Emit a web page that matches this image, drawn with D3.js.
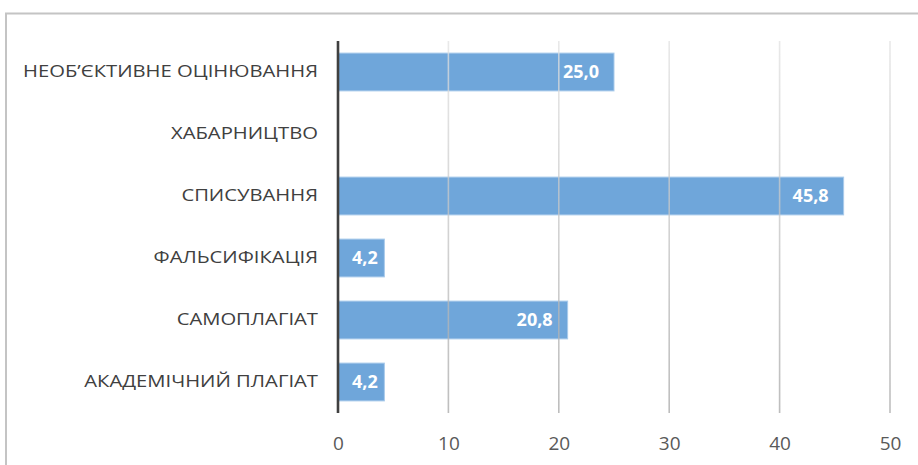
<!DOCTYPE html>
<html>
<head>
<meta charset="utf-8">
<script src="https://cdn.jsdelivr.net/npm/d3@7"></script>
<style>
  html, body { margin: 0; padding: 0; background: #fff; }
  svg { display: block; }
</style>
</head>
<body>
<div id="chart"></div>
<script>
// categories top -> bottom
const categories = [
  'НЕОБ’ЄКТИВНЕ ОЦІНЮВАННЯ',
  'ХАБАРНИЦТВО',
  'СПИСУВАННЯ',
  'ФАЛЬСИФІКАЦІЯ',
  'САМОПЛАГІАТ',
  'АКАДЕМІЧНИЙ ПЛАГІАТ',
];
const values = [25.0, null, 45.8, 4.2, 20.8, 4.2];
const xTicks = [0, 10, 20, 30, 40, 50];

const width = 918, height = 465;
const margin = { top: 41, left: 338, right: 28, bottom: 52 };
const innerW = width - margin.left - margin.right;
const innerH = height - margin.top - margin.bottom;

const fontFam = '"Open Sans", sans-serif';

const svg = d3.select('#chart').append('svg')
  .attr('width', width).attr('height', height);

// outer frame (extends past right/bottom edge)
svg.append('rect')
  .attr('x', 6).attr('y', 13.5)
  .attr('width', width + 10).attr('height', height + 10)
  .attr('fill', 'none').attr('stroke', '#c4c4c4').attr('stroke-width', 2);

const defs = svg.append('defs');
const grad = defs.append('linearGradient')
  .attr('id', 'gridGrad').attr('gradientUnits', 'userSpaceOnUse')
  .attr('x1', 0).attr('y1', 0).attr('x2', 0).attr('y2', innerH);
grad.append('stop').attr('offset', '0%').attr('stop-color', '#e2e2e2');
grad.append('stop').attr('offset', '100%').attr('stop-color', '#a8a8a8');

const x = d3.scaleLinear().domain([0, 50]).range([0, innerW]);
const y = d3.scaleBand().domain(categories).range([0, innerH]).paddingInner(0.39).paddingOuter(0.195);

const g = svg.append('g').attr('transform', `translate(${margin.left},${margin.top})`);

const rows = categories.map((c, i) => ({ c, v: values[i] })).filter(d => d.v != null && d.v > 0);

// bars
g.selectAll('rect.bar')
  .data(rows)
  .join('rect')
  .attr('class', 'bar')
  .attr('x', x(0))
  .attr('y', d => y(d.c))
  .attr('width', d => x(d.v) - x(0))
  .attr('height', y.bandwidth())
  .attr('fill', '#6fa6da')
  .attr('stroke', '#a9cbeb').attr('stroke-width', 1);

// gridlines (drawn over bars, faint)
g.selectAll('line.grid')
  .data(xTicks.filter(t => t > 0))
  .join('line')
  .attr('class', 'grid')
  .attr('x1', d => x(d)).attr('x2', d => x(d))
  .attr('y1', 0).attr('y2', innerH)
  .attr('stroke', 'url(#gridGrad)').attr('stroke-width', 1.6)
  .attr('opacity', 0.75);

// value labels: inside end, but never closer than 14px to the bar start
g.selectAll('text.val')
  .data(rows)
  .join('text')
  .attr('class', 'val')
  .attr('y', d => y(d.c) + y.bandwidth() / 2)
  .attr('dy', '0.36em')
  .attr('text-anchor', 'end')
  .attr('fill', '#fff')
  .style('font', `bold 18px ${fontFam}`)
  .text(d => d3.format('.1f')(d.v).replace('.', ','))
  .attr('x', function (d) {
    const w = this.getComputedTextLength();
    return Math.max(x(d.v) - 15, x(0) + 14 + w);
  });

// category axis line
g.append('line')
  .attr('x1', x(0)).attr('x2', x(0))
  .attr('y1', 0).attr('y2', innerH)
  .attr('stroke', '#404040').attr('stroke-width', 2.6);

// category labels
const yAxis = g.append('g').call(d3.axisLeft(y).tickSize(0).tickPadding(20));
yAxis.select('.domain').remove();
const catText = yAxis.selectAll('text')
  .attr('fill', '#404040')
  .style('font', `16.4px ${fontFam}`);

// the source font is wider than the fallback, stretch to match longest label (~295px)
const widths = catText.nodes().map(n => n.getComputedTextLength());
const stretch = 295 / d3.max(widths);
catText.each(function (d, i) {
  d3.select(this).attr('textLength', widths[i] * stretch).attr('lengthAdjust', 'spacingAndGlyphs');
});

// x tick labels
const xAxis = g.append('g').attr('transform', `translate(0,${innerH})`)
  .call(d3.axisBottom(x).tickValues(xTicks).tickSize(0).tickPadding(24).tickFormat(d3.format('d')));
xAxis.select('.domain').remove();
xAxis.selectAll('text')
  .attr('fill', '#595959')
  .style('font', `19px ${fontFam}`);
</script>
</body>
</html>
